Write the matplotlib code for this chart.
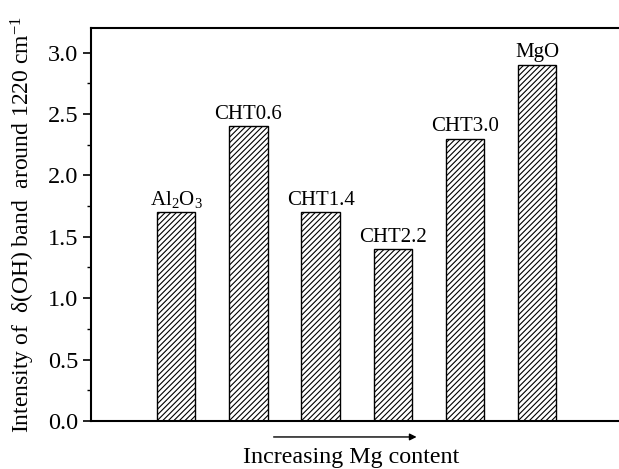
import matplotlib
matplotlib.use("Agg")
import matplotlib.pyplot as plt
from matplotlib.ticker import MultipleLocator

plt.rcParams['font.family'] = ['Liberation Serif', 'DejaVu Serif']
plt.rcParams['mathtext.fontset'] = 'custom'
plt.rcParams['mathtext.rm'] = 'Liberation Serif'
plt.rcParams['mathtext.it'] = 'Liberation Serif:italic'
plt.rcParams['hatch.linewidth'] = 0.8

# samples and delta(OH) band intensity
samples = ["Al$_2$O$_3$", "CHT0.6", "CHT1.4", "CHT2.2", "CHT3.0", "MgO"]
intensity = [1.7, 2.4, 1.7, 1.4, 2.3, 2.9]
positions = [1, 2, 3, 4, 5, 6]

fig = plt.figure(figsize=(6.19, 4.69), dpi=100)
ax = fig.add_axes([91 / 619, 48 / 469, 540 / 619, 393 / 469])

bars = ax.bar(positions, intensity, width=0.53, color="white",
              edgecolor="black", linewidth=1.0, hatch="//////")

for x, h, name in zip(positions, intensity, samples):
    ax.text(x, h + 0.02, name, ha="center", va="bottom", fontsize=15)

ax.set_xlim(-0.18, 7.3)
ax.set_ylim(0, 3.2)
ax.yaxis.set_major_locator(MultipleLocator(0.5))
ax.yaxis.set_minor_locator(MultipleLocator(0.25))
ax.yaxis.set_major_formatter(plt.FormatStrFormatter("%.1f"))
ax.tick_params(axis="y", which="major", direction="out", length=6, width=1.2,
               labelsize=17.5, pad=3)
ax.tick_params(axis="y", which="minor", direction="out", length=3, width=1.0)
ax.set_xticks([])
for side in ["left", "bottom", "top"]:
    ax.spines[side].set_linewidth(1.5)
ax.spines["right"].set_visible(False)

ax.set_ylabel("Intensity of  δ(OH) band  around 1220 cm$^{-1}$", fontsize=17)
ax.yaxis.set_label_coords(-0.1, 0.5)

# arrow and caption under the axis
ax.annotate("", xy=(4.33, -0.13), xytext=(2.35, -0.13),
            xycoords="data", annotation_clip=False,
            arrowprops=dict(arrowstyle="-|>", color="black", lw=1.0,
                            mutation_scale=10, shrinkA=0, shrinkB=0))
ax.text(3.42, -0.21, "Increasing Mg content", ha="center", va="top",
        fontsize=17.3, clip_on=False)

fig.savefig("out.png", dpi=100)
